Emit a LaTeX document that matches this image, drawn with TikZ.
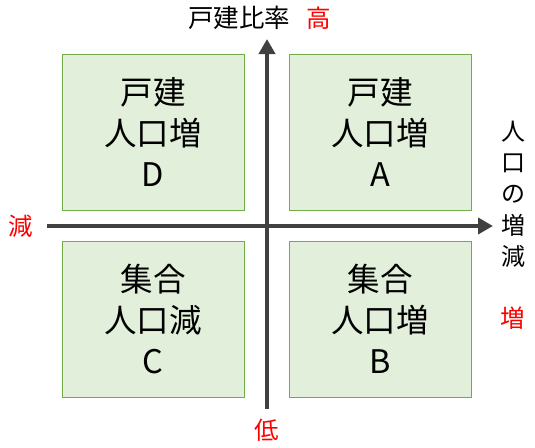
\documentclass[tikz,border=0pt]{standalone}
\usepackage{fontspec}
\setmainfont{Noto Sans CJK JP}
\usetikzlibrary{arrows.meta}
\definecolor{boxfill}{HTML}{E2EFDA}
\definecolor{boxline}{HTML}{70AD47}
\definecolor{axisgray}{HTML}{404040}
\definecolor{lblred}{HTML}{FF0000}
\tikzset{
  quad/.style={draw=boxline, line width=1pt, fill=boxfill, minimum width=182pt, minimum height=156pt,
    inner sep=0pt, align=center, font=\fontsize{32.5}{41}\selectfont},
  axis/.style={draw=axisgray, line width=4.5pt, -{Triangle[width=16pt,length=15pt]}},
  lbl/.style={inner sep=0pt, font=\fontsize{24.5}{28}\selectfont},
  redlbl/.style={lbl, text=lblred},
}
\begin{document}
\begin{tikzpicture}[x=1pt,y=-1pt]
\useasboundingbox (0,0) rectangle (535,447);
\node[quad] (D) at (153,132) {戸建\\人口増\\D};
\node[quad] (A) at (380,132) {戸建\\人口増\\A};
\node[quad] (C) at (153,319) {集合\\人口減\\C};
\node[quad] (B) at (380,319) {集合\\人口増\\B};
\coordinate (hl) at (47,226);
\coordinate (hr) at (493,226);
\coordinate (vb) at (267,409);
\coordinate (vt) at (267,39);
\draw[axis] (hl) -- (hr);
\draw[axis] (vb) -- (vt);
\node[lbl, font=\fontsize{25.5}{28}\selectfont] (ylab) at (239,18) {戸建比率};
\node[redlbl] (yhi) at (319,18) {高};
\node[redlbl] (ylo) at (267,430) {低};
\node[redlbl] (xlo) at (21,226) {減};
\node[redlbl] (xhi) at (513,318) {増};
\node[lbl, align=center, font=\fontsize{24}{31.3}\selectfont] (xlab) at (513,194) {人\\口\\の\\増\\減};
\end{tikzpicture}
\end{document}
